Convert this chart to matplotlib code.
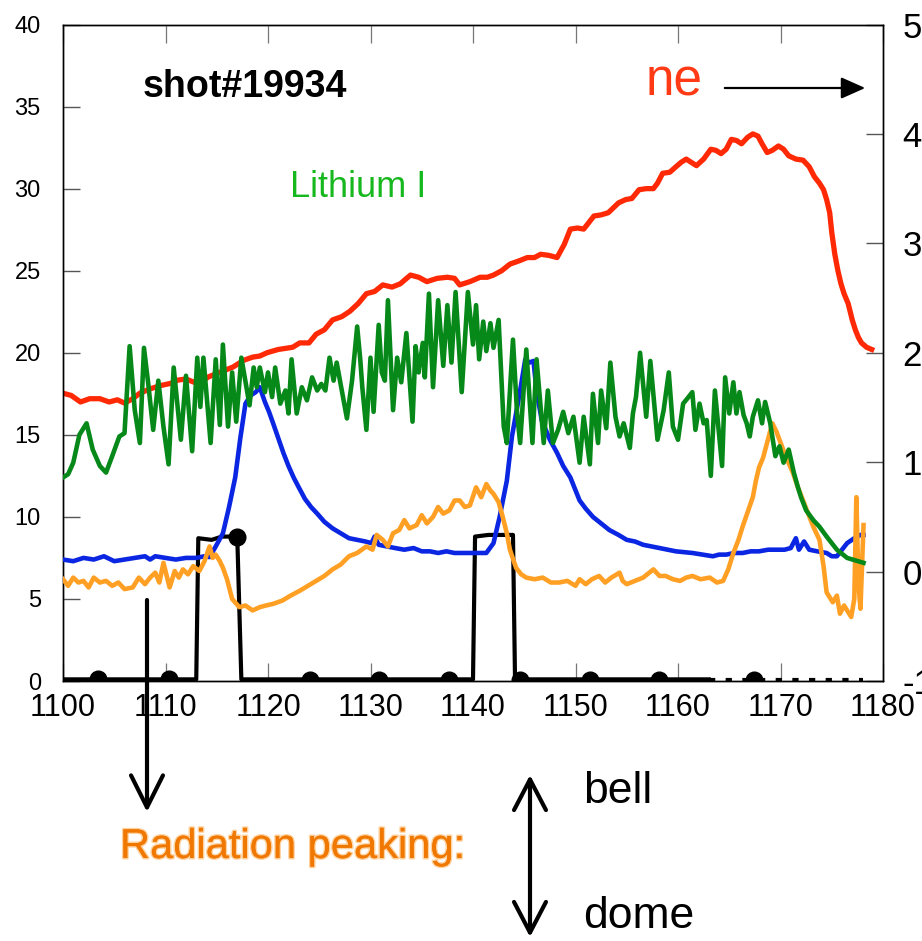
import matplotlib
matplotlib.use("Agg")
import matplotlib.pyplot as plt
from matplotlib.patches import FancyArrowPatch
from matplotlib import font_manager
import matplotlib.patheffects as pe

plt.rcParams['font.family'] = ['Liberation Sans', 'DejaVu Sans']

def has_font(name):
    try:
        font_manager.findfont(font_manager.FontProperties(family=name), fallback_to_default=False)
        return True
    except Exception:
        return False

NARROW = 'Liberation Sans Narrow' if has_font('Liberation Sans Narrow') else None

# ---------------- data ----------------
x_ticks = [1100, 1110, 1120, 1130, 1140, 1150, 1160, 1170, 1180]
left_ticks = [0, 5, 10, 15, 20, 25, 30, 35, 40]
right_ticks = [-1, 0, 1, 2, 3, 4, 5]

# electron density ne (right axis)
ne_t = [1100.0, 1100.8, 1101.7, 1102.6, 1103.6, 1104.5, 1105.3, 1106.0, 1106.8, 1107.5,
        1108.5, 1109.5, 1110.5, 1111.2, 1112.0, 1112.8, 1113.4, 1114.2, 1115.0, 1115.8,
        1116.6, 1117.6, 1118.5, 1119.2, 1119.9, 1121.0, 1122.4, 1123.1, 1124.0, 1124.7,
        1125.5, 1126.3, 1127.2, 1128.0, 1128.8, 1129.6, 1130.4, 1131.2, 1132.1, 1132.9,
        1133.9, 1134.7, 1135.5, 1136.5, 1137.5, 1138.2, 1138.7, 1139.7, 1140.7, 1141.4,
        1142.0, 1142.8, 1143.6, 1144.5, 1145.3, 1146.0, 1146.6, 1147.4, 1148.2, 1148.9,
        1149.5, 1150.2, 1150.8, 1151.8, 1152.5, 1153.2, 1154.2, 1154.9, 1155.5, 1156.2,
        1156.9, 1157.6, 1158.0, 1158.5, 1159.2, 1159.8, 1160.3, 1160.8, 1161.3, 1161.8,
        1162.5, 1163.2, 1163.7, 1164.2, 1164.7, 1165.2, 1165.7, 1166.2, 1166.8, 1167.3,
        1167.8, 1168.2, 1168.7, 1169.2, 1169.8, 1170.3, 1170.8, 1171.5, 1172.2, 1172.8,
        1173.3, 1173.8, 1174.2, 1174.5, 1174.8, 1175.0, 1175.3, 1175.6, 1175.9, 1176.2,
        1176.6, 1177.0, 1177.3, 1177.6, 1177.9, 1178.4, 1178.9]
ne_v = [1.63, 1.61, 1.55, 1.58, 1.58, 1.55, 1.57, 1.54, 1.58, 1.63,
        1.67, 1.70, 1.72, 1.75, 1.76, 1.73, 1.73, 1.78, 1.81, 1.84,
        1.87, 1.93, 1.96, 1.97, 2.00, 2.03, 2.05, 2.09, 2.09, 2.17,
        2.21, 2.30, 2.33, 2.38, 2.45, 2.54, 2.56, 2.62, 2.60, 2.63,
        2.71, 2.69, 2.65, 2.68, 2.69, 2.68, 2.62, 2.65, 2.69, 2.69,
        2.71, 2.75, 2.81, 2.84, 2.87, 2.87, 2.90, 2.89, 2.87, 2.99,
        3.13, 3.14, 3.13, 3.25, 3.26, 3.28, 3.37, 3.40, 3.41, 3.49,
        3.50, 3.50, 3.55, 3.64, 3.65, 3.70, 3.74, 3.77, 3.74, 3.71,
        3.77, 3.86, 3.85, 3.82, 3.86, 3.95, 3.94, 3.91, 3.97, 4.00,
        3.98, 3.91, 3.83, 3.85, 3.89, 3.86, 3.80, 3.77, 3.76, 3.70,
        3.61, 3.55, 3.49, 3.40, 3.28, 3.10, 2.90, 2.75, 2.63, 2.54,
        2.45, 2.30, 2.21, 2.14, 2.09, 2.05, 2.03]

# Lithium I (green, left axis)
li_t = [1100.0, 1100.5, 1101.0, 1101.6, 1102.3, 1102.9, 1103.6, 1104.2, 1104.8, 1105.5,
        1106.0, 1106.5, 1107.0, 1107.5, 1107.9, 1108.3, 1108.8, 1109.3, 1109.8, 1110.3,
        1110.8, 1111.5, 1112.0, 1112.6, 1113.1, 1113.4, 1113.7, 1114.4, 1114.9, 1115.3,
        1115.6, 1116.1, 1116.5, 1116.9, 1117.4, 1117.9, 1118.2, 1118.6, 1118.9, 1119.2,
        1119.7, 1120.0, 1120.4, 1120.7, 1121.2, 1121.7, 1122.0, 1122.3, 1122.8, 1123.3,
        1123.8, 1124.3, 1124.8, 1125.2, 1125.6, 1126.0, 1126.4, 1126.7, 1127.2, 1127.7,
        1128.2, 1128.7, 1129.0, 1129.2, 1129.6, 1130.0, 1130.3, 1130.8, 1131.1, 1131.4,
        1131.7, 1132.2, 1132.6, 1133.0, 1133.5, 1134.1, 1134.4, 1134.7, 1135.1, 1135.3,
        1135.7, 1136.1, 1136.6, 1137.1, 1137.5, 1137.9, 1138.3, 1138.9, 1139.5, 1140.0,
        1140.3, 1140.6, 1141.0, 1141.3, 1141.7, 1142.0, 1142.5, 1143.0, 1143.3, 1143.9,
        1144.3, 1144.6, 1145.2, 1145.8, 1146.2, 1146.9, 1147.3, 1147.8, 1148.3, 1148.8,
        1149.3, 1149.8, 1150.4, 1150.8, 1151.4, 1151.7, 1152.2, 1152.5, 1153.0, 1153.4,
        1153.9, 1154.3, 1154.7, 1155.3, 1155.6, 1155.9, 1156.3, 1156.9, 1157.3, 1158.0,
        1158.6, 1159.1, 1159.5, 1160.0, 1160.5, 1160.9, 1161.4, 1161.7, 1162.1, 1162.5,
        1162.8, 1163.2, 1163.6, 1164.3, 1164.6, 1165.0, 1165.4, 1165.7, 1166.0, 1166.4,
        1166.7, 1167.0, 1167.3, 1167.8, 1168.2, 1168.5, 1169.0, 1169.5, 1169.9, 1170.3,
        1170.8, 1171.3, 1171.7, 1172.0, 1172.5, 1173.2, 1173.8, 1174.5, 1175.5, 1176.5,
        1178.1]
li_v = [12.4, 12.6, 13.3, 15.0, 15.7, 14.1, 13.1, 12.7, 13.7, 14.9,
        15.1, 20.4, 16.5, 14.5, 20.3, 18.2, 15.3, 18.3, 15.5, 13.2,
        19.1, 14.7, 18.6, 14.0, 19.7, 16.7, 19.7, 14.5, 19.6, 15.6,
        20.5, 15.5, 18.8, 15.8, 19.7, 17.9, 16.8, 19.1, 17.9, 19.1,
        17.6, 18.8, 17.3, 19.1, 16.9, 17.7, 16.3, 19.6, 16.3, 17.9,
        17.1, 18.5, 17.7, 18.1, 17.7, 19.7, 18.3, 19.4, 17.7, 16.0,
        18.3, 21.6, 19.6, 17.9, 15.3, 19.7, 16.4, 21.7, 18.8, 18.3,
        23.2, 16.5, 19.7, 18.2, 21.2, 15.8, 20.4, 18.8, 20.6, 18.5,
        23.6, 17.9, 23.2, 19.2, 22.9, 19.4, 23.7, 17.6, 23.7, 20.5,
        22.9, 19.6, 21.9, 20.1, 21.8, 20.3, 22.0, 15.5, 14.5, 20.8,
        16.3, 14.5, 20.2, 14.5, 19.6, 14.5, 17.7, 14.5, 15.3, 16.4,
        15.1, 16.1, 13.3, 16.1, 13.2, 17.5, 14.5, 17.7, 15.4, 19.4,
        16.1, 14.9, 15.7, 14.2, 16.3, 17.3, 20.0, 16.1, 19.5, 14.7,
        16.5, 18.8, 15.5, 14.7, 16.9, 17.2, 17.6, 15.3, 16.9, 15.7,
        15.9, 12.5, 17.7, 13.1, 18.5, 16.3, 18.2, 16.3, 17.6, 16.2,
        15.7, 14.9, 16.1, 17.1, 15.7, 17.0, 15.7, 13.7, 14.3, 13.3,
        14.1, 12.7, 11.8, 11.2, 10.4, 9.8, 9.4, 8.8, 8.0, 7.5,
        7.2]

# blue (left axis)
bl_t = [1100, 1101, 1102, 1103, 1104, 1105, 1106, 1107, 1108, 1108.5,
        1109, 1110, 1111, 1112, 1113, 1113.8, 1114.3, 1114.9, 1115.6, 1116.2,
        1116.8, 1117.3, 1117.8, 1118.3, 1118.8, 1119.2, 1119.7, 1120.1, 1120.5, 1121.0,
        1121.5, 1122.0, 1122.5, 1123.0, 1123.6, 1124.2, 1124.8, 1125.5, 1126.3, 1127.1,
        1127.9, 1128.7, 1129.5, 1130.1, 1130.4, 1130.8, 1131.6, 1132.4, 1133.3, 1134.2,
        1135.0, 1135.8, 1136.6, 1137.4, 1138.2, 1139.0, 1140.0, 1141.3, 1142.0, 1142.6,
        1143.3, 1143.8, 1144.6, 1145.1, 1145.5, 1145.9, 1146.2, 1146.7, 1147.5, 1148.2,
        1148.8, 1149.5, 1150.4, 1151.0, 1151.7, 1152.5, 1153.3, 1154.2, 1155.0, 1155.8,
        1156.6, 1157.4, 1158.2, 1159.0, 1159.8, 1160.6, 1161.4, 1162.4, 1163.4, 1164.0,
        1164.7, 1165.5, 1166.3, 1167.1, 1167.9, 1168.8, 1169.6, 1170.4, 1171.0, 1171.5,
        1171.8, 1172.3, 1172.8, 1173.6, 1174.5, 1175.0, 1175.5, 1176.0, 1176.5, 1177.2,
        1177.8, 1178.1]
bl_v = [7.4, 7.3, 7.5, 7.4, 7.6, 7.3, 7.4, 7.5, 7.6, 7.4,
        7.6, 7.5, 7.4, 7.5, 7.5, 7.6, 7.55, 8.2, 9.0, 10.6,
        12.4, 14.8, 16.9, 17.4, 17.6, 17.9, 17.0, 16.4, 15.7, 14.8,
        13.9, 13.1, 12.4, 11.8, 11.1, 10.6, 10.2, 9.7, 9.3, 9.0,
        8.7, 8.6, 8.5, 8.4, 8.8, 8.3, 8.2, 8.1, 8.0, 8.1,
        7.9, 7.9, 7.8, 7.9, 7.8, 7.8, 7.8, 7.8, 8.4, 10.0,
        12.2, 14.9, 17.7, 19.6, 19.4, 19.5, 17.7, 15.9, 14.7, 13.9,
        13.1, 12.4, 11.0, 10.5, 10.0, 9.6, 9.2, 8.9, 8.6, 8.5,
        8.3, 8.2, 8.1, 8.0, 7.9, 7.85, 7.8, 7.7, 7.6, 7.7,
        7.7, 7.8, 7.8, 7.9, 7.9, 8.0, 8.0, 8.0, 8.1, 8.7,
        8.0, 8.5, 8.0, 7.9, 7.8, 7.6, 7.6, 8.0, 8.4, 8.7,
        8.9, 8.9]

# orange radiation (left axis)
or_t = [1100.0, 1100.5, 1101.0, 1101.5, 1102.0, 1102.5, 1103.0, 1103.6, 1104.2, 1104.8,
        1105.4, 1106.0, 1106.8, 1107.4, 1108.0, 1108.5, 1109.0, 1109.4, 1109.8, 1110.4,
        1110.9, 1111.3, 1111.7, 1112.2, 1112.7, 1113.3, 1113.8, 1114.3, 1114.6, 1114.9,
        1115.3, 1115.6, 1116.0, 1116.5, 1117.2, 1117.8, 1118.5, 1119.2, 1119.8, 1120.5,
        1121.4, 1122.2, 1123.1, 1123.9, 1124.7, 1125.5, 1126.3, 1127.1, 1127.9, 1128.7,
        1129.6, 1130.2, 1130.6, 1131.2, 1131.7, 1132.2, 1132.8, 1133.3, 1133.8, 1134.5,
        1135.0, 1135.5, 1136.1, 1136.6, 1137.1, 1137.7, 1138.2, 1138.7, 1139.2, 1139.7,
        1140.3, 1140.8, 1141.3, 1141.7, 1142.0, 1142.5, 1142.9, 1143.3, 1143.6, 1144.2,
        1144.7, 1145.2, 1146.0, 1146.8, 1147.6, 1148.4, 1149.2, 1150.0, 1150.4, 1151.0,
        1151.6, 1152.3, 1152.9, 1153.5, 1154.3, 1154.6, 1155.0, 1155.8, 1156.6, 1157.2,
        1157.6, 1158.2, 1158.8, 1159.5, 1160.2, 1160.8, 1161.4, 1162.2, 1163.1, 1163.8,
        1164.4, 1164.9, 1165.4, 1165.9, 1166.3, 1166.8, 1167.3, 1167.6, 1167.9, 1168.3,
        1168.6, 1168.9, 1169.2, 1169.6, 1169.9, 1170.5, 1171.2, 1171.7, 1172.2, 1172.7,
        1173.2, 1173.8, 1174.2, 1174.5, 1175.1, 1175.5, 1175.8, 1176.2, 1176.5, 1176.9,
        1177.2, 1177.4, 1177.6, 1177.8, 1178.1]
or_v = [6.2, 5.8, 6.3, 6.0, 6.1, 5.7, 6.3, 6.0, 6.1, 5.8,
        6.0, 5.6, 5.7, 6.3, 5.9, 6.3, 6.6, 6.0, 7.2, 5.7,
        6.7, 6.3, 6.8, 6.5, 7.0, 6.7, 7.3, 8.2, 7.5, 7.7,
        7.3, 6.9, 6.2, 5.0, 4.5, 4.6, 4.3, 4.5, 4.6, 4.7,
        4.9, 5.2, 5.5, 5.8, 6.1, 6.4, 6.8, 7.1, 7.6, 7.8,
        8.2, 8.0, 8.9, 8.6, 8.2, 9.0, 9.2, 9.8, 9.3, 9.5,
        10.1, 9.6, 10.0, 10.6, 10.2, 10.4, 11.0, 11.0, 10.6, 10.7,
        11.8, 11.2, 12.0, 11.6, 11.4, 10.9, 10.0, 9.0, 8.0, 6.9,
        6.5, 6.3, 6.2, 6.3, 6.0, 6.0, 6.1, 5.8, 6.2, 5.9,
        6.2, 6.4, 6.0, 6.3, 6.6, 6.1, 5.9, 6.1, 6.3, 6.6,
        6.8, 6.4, 6.4, 6.2, 6.1, 6.3, 6.4, 6.2, 6.3, 6.0,
        6.1, 6.8, 7.8, 8.6, 9.4, 10.3, 11.2, 12.2, 13.0, 13.6,
        14.3, 15.0, 15.7, 15.2, 14.7, 13.7, 12.7, 11.8, 11.0, 10.2,
        9.4, 8.6, 7.0, 5.4, 4.8, 5.2, 4.1, 4.6, 4.3, 3.9,
        5.0, 11.2, 6.0, 4.4, 9.5]

# black gate signal (left axis)
gate_t = [1100.0, 1113.0, 1113.2, 1114.5, 1115.5, 1117.0, 1117.4, 1140.0, 1140.2, 1141.5,
          1143.9, 1144.1, 1163.0]
gate_v = [0.1, 0.1, 8.7, 8.6, 8.8, 8.8, 0.1, 0.1, 8.8, 8.9,
          8.9, 0.1, 0.1]
gate_tail_t = [1163.0, 1178.0]
gate_tail_v = [0.05, 0.05]
mark_t = [1103.4, 1110.3, 1117.0, 1124.1, 1130.8, 1137.7, 1144.6, 1151.4, 1158.1, 1167.4]
mark_v = [0.1, 0.1, 8.8, 0.05, 0.05, 0.05, 0.05, 0.05, 0.05, 0.05]

# ---------------- figure ----------------
W, H = 922, 941
fig = plt.figure(figsize=(W / 100, H / 100), dpi=100)
fig.patch.set_facecolor('white')

def fx(x):
    return x / W

def fy(y):
    return 1 - y / H

ax = fig.add_axes([fx(63), fy(681), (883 - 63) / W, (681 - 24.5) / H])
ax2 = ax.twinx()
ax.set_zorder(ax2.get_zorder() + 1)
ax.patch.set_visible(False)

ax.set_xlim(1100, 1180)
ax.set_ylim(0, 40)
ax2.set_ylim(-1, 5)

# red ne on right axis (beneath the others)
ax2.plot(ne_t, ne_v, color='#ff2a05', lw=3.8, solid_joinstyle='round', zorder=2)

# left axis signals
ax.plot(gate_t, gate_v, color='black', lw=3.0, zorder=2)
ax.plot(gate_tail_t, gate_tail_v, color='black', lw=3.0, ls=(0, (1.5, 2.5)), zorder=2)
ax.plot(mark_t, mark_v, 'o', color='black', ms=12, zorder=2.5)
ax.plot(bl_t, bl_v, color='#0a26e2', lw=3.3, zorder=3)
ax.plot(or_t, or_v, color='#ffa024', lw=3.3, zorder=4)
ax.plot(li_t, li_v, color='#07891a', lw=3.3, zorder=5)

# ticks
xfont = dict(family=NARROW, size=25) if NARROW else dict(size=22)
ax.set_xticks(x_ticks)
ax.set_xticklabels([str(t) for t in x_ticks], fontdict=xfont)
ax.tick_params(axis='x', which='both', direction='in', length=13, width=0.9, color='#777',
               top=True, bottom=True, pad=9)
ax.set_yticks(left_ticks)
ax.set_yticklabels([str(t) for t in left_ticks], fontsize=17)
ax.tick_params(axis='y', direction='in', length=12, width=1.0, color='#555', pad=16,
               left=True, right=False)
ax2.set_yticks(right_ticks)
ax2.set_yticklabels([str(t) for t in right_ticks], fontsize=25)
ax2.tick_params(axis='y', direction='in', length=12, width=1.0, color='#555', pad=14)
ax2.set_xlim(1100, 1180)
for s in ax.spines.values():
    s.set_linewidth(1.0)
for s in ax2.spines.values():
    s.set_linewidth(1.0)

# texts
fig.text(fx(143), fy(97), 'shot#19934', fontsize=27, fontweight='bold', color='black',
         ha='left', va='baseline')
fig.text(fx(290), fy(197), 'Lithium I', fontsize=26, color='#16b81e', ha='left', va='baseline')
if NARROW:
    fig.text(fx(646), fy(95), 'ne', fontsize=40, family=NARROW, color='#ff3a14', ha='left', va='baseline')
else:
    fig.text(fx(646), fy(95), 'ne', fontsize=37, color='#ff3a14', ha='left', va='baseline')

fig.add_artist(FancyArrowPatch((fx(722), fy(88)), (fx(868), fy(88)), transform=fig.transFigure,
                               arrowstyle='-|>,head_length=0.45,head_width=0.2', mutation_scale=33,
                               color='black', lw=1.6, zorder=10))

fig.add_artist(FancyArrowPatch((fx(147), fy(600)), (fx(147), fy(812)), transform=fig.transFigure,
                               arrowstyle='->,head_length=2.3,head_width=1.15', mutation_scale=10,
                               color='black', lw=3.0, zorder=10, shrinkA=0, shrinkB=0))
fig.add_artist(FancyArrowPatch((fx(530), fy(775)), (fx(530), fy(937)), transform=fig.transFigure,
                               arrowstyle='<->,head_length=2.2,head_width=1.15', mutation_scale=10,
                               color='black', lw=3.0, zorder=10, shrinkA=0, shrinkB=0))

fig.text(fx(120), fy(858), 'Radiation peaking:', fontsize=30, color='#f07800', ha='left', va='baseline',
         path_effects=[pe.withStroke(linewidth=2.2, foreground='#ffd2a0'), pe.Normal()])
fig.text(fx(583), fy(803), 'bell', fontsize=32, color='black', ha='left', va='baseline')
fig.text(fx(583), fy(928), 'dome', fontsize=32, color='black', ha='left', va='baseline')

fig.savefig('out.png', dpi=100, facecolor='white')
